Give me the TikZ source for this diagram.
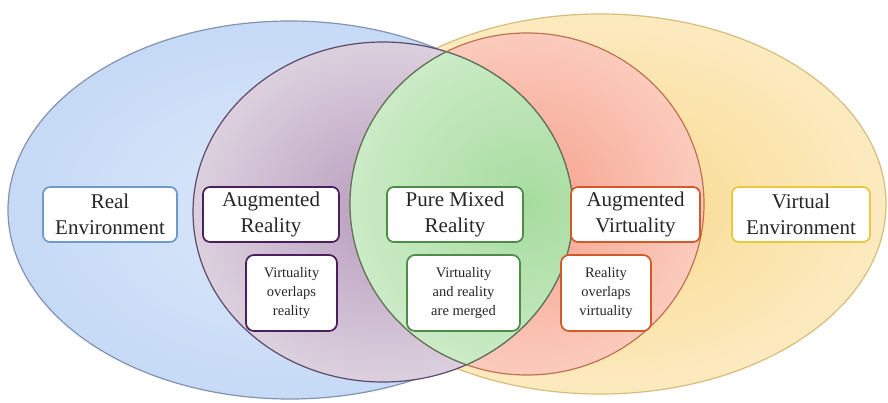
\documentclass[tikz,border=0pt]{standalone}
\usepackage{fontspec}
\setmainfont{Liberation Serif}
\usepackage{xcolor}
\definecolor{MRblue}{HTML}{C6DAF6}
\definecolor{MRblueIn}{HTML}{DCE8FA}
\definecolor{MRblueEdge}{HTML}{8391B2}
\definecolor{MRpurple}{HTML}{DCD0DE}
\definecolor{MRpurpleIn}{HTML}{B89DBE}
\definecolor{MRpurpleEdge}{HTML}{5C4A6C}
\definecolor{MRgreen}{HTML}{CBEBC6}
\definecolor{MRgreenIn}{HTML}{A6DC9E}
\definecolor{MRgreenEdge}{HTML}{5E745A}
\definecolor{MRred}{HTML}{FBCBBD}
\definecolor{MRredIn}{HTML}{F6A08A}
\definecolor{MRredEdge}{HTML}{BF7150}
\definecolor{MRyellow}{HTML}{FCEAC0}
\definecolor{MRyellowIn}{HTML}{F9D98C}
\definecolor{MRyellowEdge}{HTML}{D8BC7A}
\definecolor{MRtext}{HTML}{262626}
\definecolor{BoxBlue}{HTML}{6C9BCB}
\definecolor{BoxPurple}{HTML}{4A1F5C}
\definecolor{BoxGreen}{HTML}{4F8A4A}
\definecolor{BoxOrange}{HTML}{D25A28}
\definecolor{BoxYellow}{HTML}{E8C83E}
\usepackage{tikz}
\newcommand{\labfont}{\fontsize{21}{26}\selectfont}
\newcommand{\notefont}{\fontsize{14.5}{19}\selectfont}
\tikzset{
  envbox/.style={draw, fill=white, rounded corners=7pt, line width=1.7pt,
    align=center, inner sep=0pt, text=MRtext, font=\labfont,
    minimum height=55pt},
  notebox/.style={draw, fill=white, rounded corners=8pt, line width=1.7pt,
    align=center, inner sep=0pt, text=MRtext, font=\notefont,
    minimum height=76pt},
  rim/.style={line width=1.2pt}
}

\begin{document}
\begin{tikzpicture}[x=1pt, y=-1pt]
  \useasboundingbox (0,0) rectangle (888,403);

  % Real environment
  \shade[inner color=MRblueIn, outer color=MRblue] (290,210) ellipse (282pt and 189pt);
  % Virtual environment
  \shade[inner color=MRyellowIn, outer color=MRyellow] (600,204) ellipse (286pt and 190pt);
  \draw[MRblueEdge, rim] (290,210) ellipse (282pt and 189pt);
  \draw[MRyellowEdge, rim] (600,204) ellipse (286pt and 190pt);

  % Augmented reality / augmented virtuality
  \shade[inner color=MRpurpleIn, outer color=MRpurple] (383,212) ellipse (190pt and 170pt);
  \shade[inner color=MRredIn, outer color=MRred] (527,204) ellipse (177pt and 171pt);
  \draw[MRpurpleEdge, rim] (383,212) ellipse (190pt and 170pt);
  \draw[MRredEdge, rim] (527,204) ellipse (177pt and 171pt);

  % Pure mixed reality = overlap of the two
  \begin{scope}
    \clip (383,212) ellipse (190pt and 170pt);
    \shade[inner color=MRgreenIn, outer color=MRgreen] (527,204) ellipse (177pt and 171pt);
    \draw[MRgreenEdge, rim] (527,204) ellipse (177pt and 171pt);
  \end{scope}
  \begin{scope}
    \clip (527,204) ellipse (177pt and 171pt);
    \draw[MRgreenEdge, rim] (383,212) ellipse (190pt and 170pt);
  \end{scope}

  % labels
  \node[envbox, draw=BoxBlue, minimum width=134pt] (real) at (110,214.5)
    {Real\\Environment};
  \node[envbox, draw=BoxPurple, minimum width=136pt] (ar) at (271,214.5)
    {Augmented\\Reality};
  \node[envbox, draw=BoxGreen, minimum width=136pt] (pmr) at (455,214.5)
    {Pure Mixed\\Reality};
  \node[envbox, draw=BoxOrange, minimum width=129pt] (av) at (635.5,214.5)
    {Augmented\\Virtuality};
  \node[envbox, draw=BoxYellow, minimum width=138pt] (virt) at (801,214.5)
    {Virtual\\Environment};

  \node[notebox, draw=BoxPurple, minimum width=91pt] (arnote) at (291.5,293)
    {Virtuality\\overlaps\\reality};
  \node[notebox, draw=BoxGreen, minimum width=113pt] (pmrnote) at (463.5,293)
    {Virtuality\\and reality\\are merged};
  \node[notebox, draw=BoxOrange, minimum width=90pt] (avnote) at (606,293)
    {Reality\\overlaps\\virtuality};

\end{tikzpicture}
\end{document}
